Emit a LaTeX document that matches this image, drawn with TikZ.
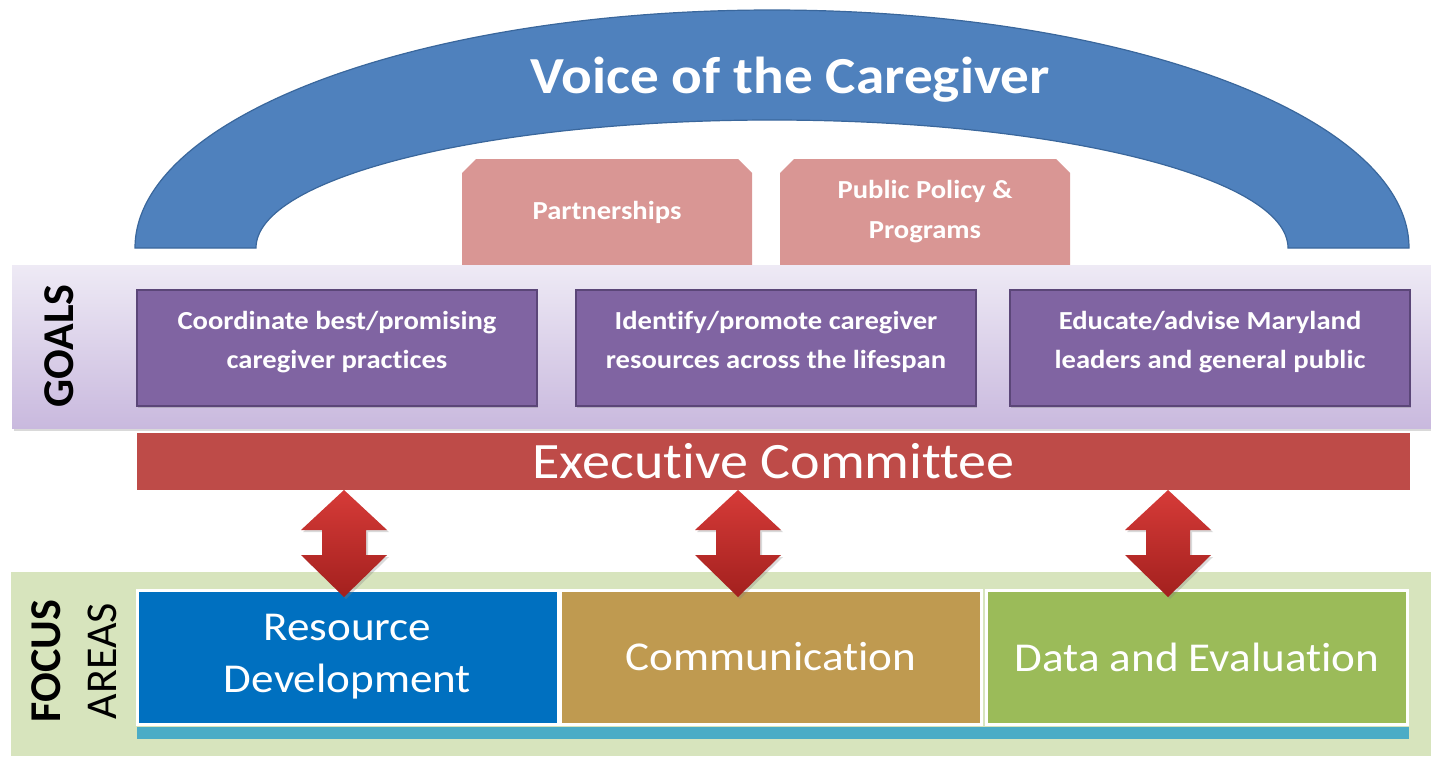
\documentclass[tikz,border=0pt]{standalone}
\usepackage{fontspec}
\setmainfont{Carlito}[FakeStretch=1.1, Ligatures=NoCommon]
\newfontfamily\sidefont{Carlito}[Ligatures=NoCommon]
\usepackage{tikz}
\usetikzlibrary{shapes.misc,shadows}
\definecolor{archblue}{HTML}{4F81BD}
\definecolor{archline}{HTML}{3A679C}
\definecolor{pinkfill}{HTML}{D99694}
\definecolor{goalstop}{HTML}{EEEAF5}
\definecolor{goalsbot}{HTML}{C9B9DE}
\definecolor{goalfill}{HTML}{8064A2}
\definecolor{goalline}{HTML}{5B4678}
\definecolor{execred}{HTML}{BE4B48}
\definecolor{arrowtop}{HTML}{D63B38}
\definecolor{arrowbot}{HTML}{A3201E}
\definecolor{focusgreen}{HTML}{D7E4BD}
\definecolor{resblue}{HTML}{0070C0}
\definecolor{commtan}{HTML}{BF9A50}
\definecolor{datagreen}{HTML}{9BBB59}
\definecolor{tealbar}{HTML}{4BACC6}
\tikzstyle{arch}=[fill=archblue, draw=archline, line width=1.2pt]
\tikzstyle{voice text}=[anchor=base, text=white
,font=\bfseries\fontsize{52}{56}\selectfont
]
\tikzstyle{pink box}=[chamfered rectangle
,chamfered rectangle corners={north west,north east}
,chamfered rectangle xsep=7pt, chamfered rectangle ysep=7pt
,fill=pinkfill, text=white, align=center
,minimum width=290pt, minimum height=106pt, inner sep=0pt
,font=\bfseries\fontsize{26}{40}\selectfont
]
\tikzstyle{goals band}=[top color=goalstop, bottom color=goalsbot
,drop shadow={opacity=0.3, shadow xshift=2pt, shadow yshift=-3pt}]
\tikzstyle{side label}=[rotate=90, align=center, inner sep=0pt]
\tikzstyle{goal box}=[rectangle, fill=goalfill, draw=goalline, line width=1.5pt
,text=white, align=center, text depth=16pt
,minimum width=400pt, minimum height=116pt, inner sep=0pt
,font=\bfseries\fontsize{26}{39}\selectfont
,drop shadow={opacity=0.35, shadow xshift=1pt, shadow yshift=-2pt}
]
\tikzstyle{exec bar}=[rectangle, fill=execred, text=white
,minimum width=1273pt, minimum height=57pt, inner sep=0pt
,font=\fontsize{51}{56}\selectfont
]
\tikzstyle{focus box}=[rectangle, draw=white, line width=3pt, text=white, align=center
,minimum width=421pt, minimum height=134pt, inner sep=0pt
,font=\fontsize{41}{52}\selectfont
]
\tikzstyle{big arrow}=[top color=arrowtop, bottom color=arrowbot
,drop shadow={opacity=0.3, shadow xshift=2pt, shadow yshift=-2pt}]

\begin{document}
\begin{tikzpicture}[x=1pt,y=-1pt]
    \useasboundingbox (0,0) rectangle (1431,756);
    % First we draw the arch on top
    \path[arch] (135,248) arc[start angle=180, end angle=0, x radius=637pt, y radius=238pt]
        -- (1288,248) arc[start angle=0, end angle=180, x radius=516pt, y radius=128pt] -- cycle;
    \node[voice text] (voice) at (790,93) {Voice of the Caregiver};

    % Boxes under the arch
    \foreach \pos/\name/\txt in {{(607,212)/P_1/Partnerships}, {(925,212)/P_2/{Public Policy \&\\Programs}}}
        \node[pink box] (\name) at \pos {\txt};

    % Goals band and its boxes
    \path[goals band] (12,265) rectangle (1431,428);
    \node[side label, font=\sidefont\bfseries\fontsize{44}{44}\selectfont] (goals) at (59,346) {GOALS};
    \foreach \pos/\name/\txt in {{(337,348)/G_1/{Coordinate best/promising\\caregiver practices}},
                                 {(776,348)/G_2/{Identify/promote caregiver\\resources across the lifespan}},
                                 {(1210,348)/G_3/{Educate/advise Maryland\\leaders and general public}}}
        \node[goal box] (\name) at \pos {\txt};

    \node[exec bar] (E) at (773.5,461.5) {Executive Committee};

    % Focus areas band
    \fill[focusgreen] (11,572) rectangle (1431,756);
    \node[side label, font=\sidefont\fontsize{44}{56}\selectfont] (focus) at (74,661) {{\bfseries FOCUS}\\AREAS};
    \foreach \pos/\name/\col/\txt in {{(347.5,657)/F_1/resblue/{Resource\\Development}},
                                      {(771,657)/F_2/commtan/Communication},
                                      {(1197,657)/F_3/datagreen/Data and Evaluation}}
        \node[focus box, fill=\col] (\name) at \pos {\txt};
    \fill[tealbar] (137,727) rectangle (1409,739);

    % Connect the committee with the focus areas
    \foreach \x in {344,738,1168}
        \path[big arrow] (\x,490) -- (\x+43,530) -- (\x+22,530) -- (\x+22,555) -- (\x+43,555)
            -- (\x,597) -- (\x-43,555) -- (\x-22,555) -- (\x-22,530) -- (\x-43,530) -- cycle;
\end{tikzpicture}
\end{document}
